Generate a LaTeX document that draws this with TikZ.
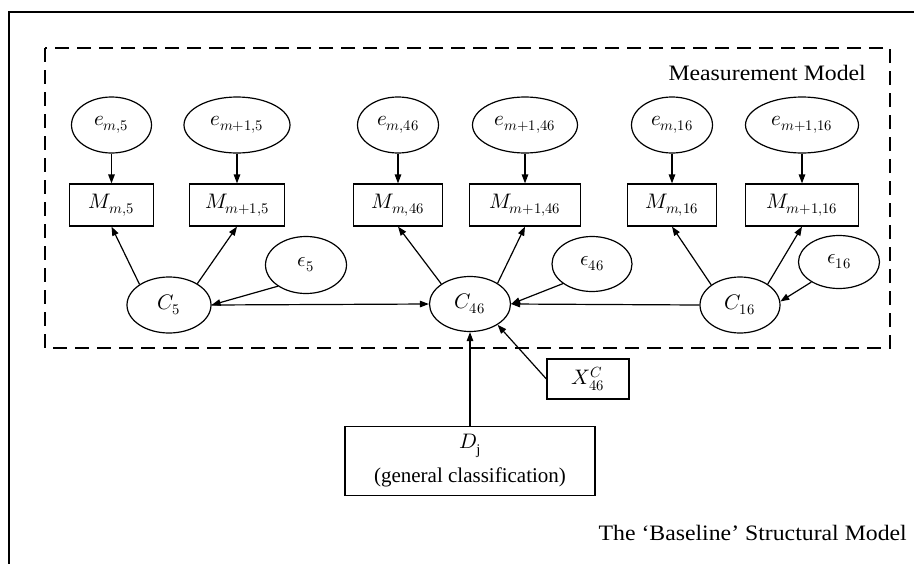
\documentclass[tikz,border=0pt]{standalone}
\usepackage{fontspec}
\usepackage{unicode-math}
\setmainfont{Liberation Serif}
\setmathfont{Latin Modern Math}
\newfontfamily\labelfont[FakeStretch=1.08]{Liberation Serif}
\usetikzlibrary{arrows.meta,shapes.geometric}

\begin{document}
\begin{tikzpicture}[x=1pt,y=-1pt,
  every node/.style={font=\fontsize{21}{25}\selectfont},
  lat/.style={draw, ellipse, line width=1.2pt, inner sep=0pt, minimum height=56pt},
  obs/.style={draw, rectangle, line width=1.2pt, inner sep=0pt, minimum height=42pt},
  link/.style={line width=1.2pt, -{Triangle[length=9pt,width=6.5pt]}},
  caption/.style={font=\labelfont\fontsize{22}{26}\selectfont, inner sep=0pt},
]
\useasboundingbox (0,0) rectangle (914,563);

% outer frame (runs off the page to the right and bottom)
\draw[line width=1.3pt] (9,570) -- (9,12) -- (920,12);

% measurement model region
\draw[line width=1.3pt, dash pattern=on 14pt off 8pt] (45,48) rectangle (890,348);
\node[caption, anchor=east] (mmlabel) at (866,73) {Measurement Model};

% measurement errors
\node[lat, minimum width=80pt]  (em5)    at (111.5,125) {$e_{m,5}$};
\node[lat, minimum width=106pt] (em15)   at (237,125) {$e_{m+1,5}$};
\node[lat, minimum width=81pt]  (em46)   at (398,125) {$e_{m,46}$};
\node[lat, minimum width=105pt] (em146)  at (525,125) {$e_{m+1,46}$};
\node[lat, minimum width=81pt]  (em16)   at (672,125) {$e_{m,16}$};
\node[lat, minimum width=113pt] (em116)  at (802,125) {$e_{m+1,16}$};

% observed measures
\node[obs, minimum width=84pt]  (Mm5)    at (111.5,205) {$M_{m,5}$};
\node[obs, minimum width=95pt]  (Mm15)   at (237,205) {$M_{m+1,5}$};
\node[obs, minimum width=89pt]  (Mm46)   at (398,205) {$M_{m,46}$};
\node[obs, minimum width=111pt] (Mm146)  at (525,205) {$M_{m+1,46}$};
\node[obs, minimum width=89pt]  (Mm16)   at (672,205) {$M_{m,16}$};
\node[obs, minimum width=113pt] (Mm116)  at (802,205) {$M_{m+1,16}$};

% latent constructs
\node[lat, minimum width=84pt] (C5)  at (169,305) {$C_{5}$};
\node[lat, minimum width=81pt, minimum height=55pt] (C46) at (470,304) {$C_{46}$};
\node[lat, minimum width=80pt] (C16) at (740,305) {$C_{16}$};

% structural disturbances
\node[lat, minimum width=81pt, minimum height=57pt] (eps5)  at (306,265) {$\epsilon_{5}$};
\node[lat, minimum width=80pt, minimum height=55pt] (eps46) at (592,264) {$\epsilon_{46}$};
\node[lat, minimum width=81pt, minimum height=53pt] (eps16) at (839,262) {$\epsilon_{16}$};

% exogenous inputs
\node[obs, minimum width=82pt, minimum height=40pt] (X46) at (588,379) {$X^{C}_{46}$};
\node[obs, minimum width=250pt, minimum height=69pt, align=center,
      font=\fontsize{21}{34}\selectfont] (Dj) at (470,461)
      {$D_{\mathrm{j}}$\\(general classification)};

\node[caption, anchor=east] (smlabel) at (907,533) {The ‘Baseline’ Structural Model};

% error -> measure
\foreach \e/\m in {em5/Mm5, em15/Mm15, em46/Mm46, em146/Mm146, em16/Mm16, em116/Mm116}
  \draw[link] (\e.south) -- (\m.north);

% construct -> measures
\draw[link] (C5.145)  -- (Mm5.south);
\draw[link] (C5.37)   -- (Mm15.south);
\draw[link] (C46.145) -- (Mm46.south);
\draw[link] (C46.37)  -- (Mm146.south);
\draw[link] (C16.145) -- (Mm16.south);
\draw[link] (C16.37)  -- (Mm116.south);

% disturbances -> constructs
\draw[link] (eps5.217)  -- (C5.east);
\draw[link] (eps46.214) -- (C46.east);
\draw[link] (eps16.216) -- (C16.5);

% structural paths
\draw[link] (C5.east)  -- (C46.west);
\draw[link] (C16.west) -- (C46.east);
\draw[link] (X46.west) -- (C46.323);
\draw[link] (Dj.north) -- (C46.south);
\end{tikzpicture}
\end{document}
